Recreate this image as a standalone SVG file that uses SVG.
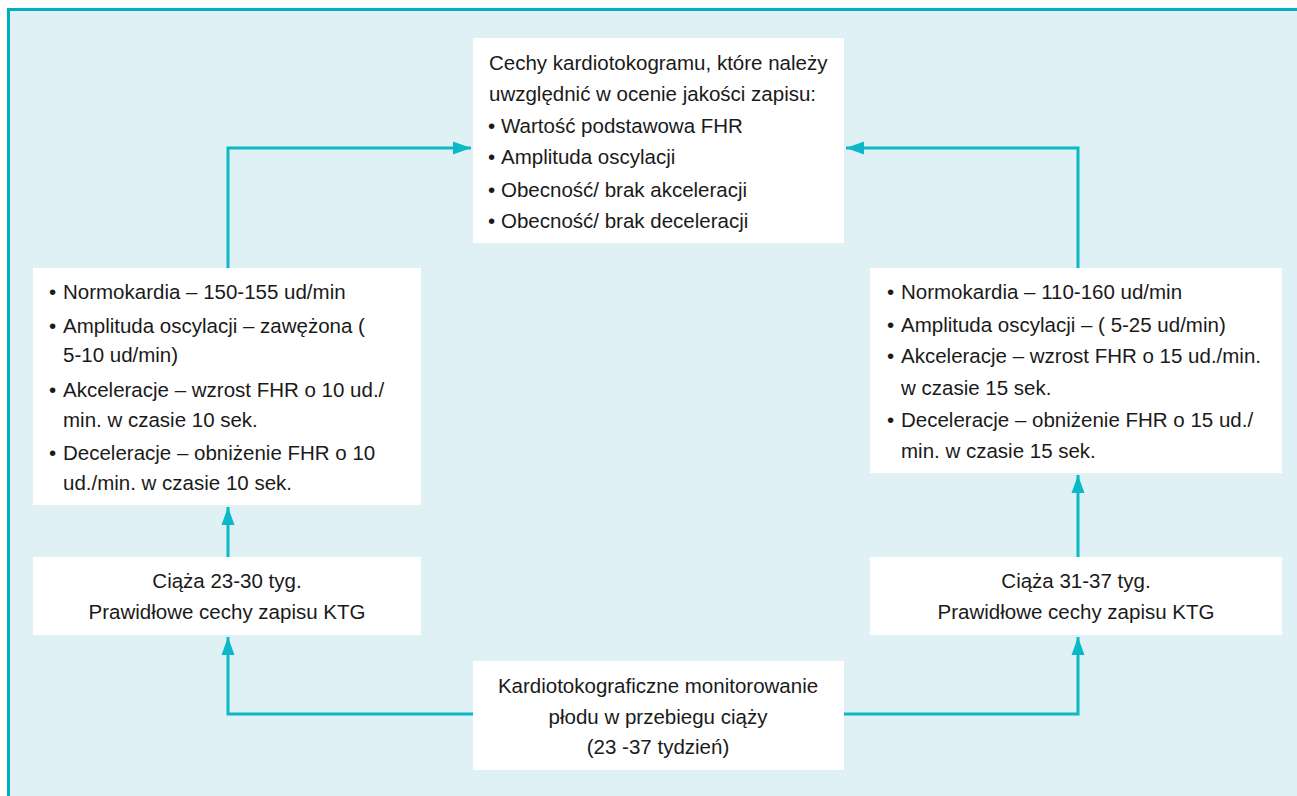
<svg xmlns="http://www.w3.org/2000/svg" width="1297" height="796" viewBox="0 0 1297 796">
  <style>
    .panel { fill: #e0f1f5; }
    .edge { fill: none; stroke: #00b0c2; stroke-width: 3; }
    .box { fill: #ffffff; }
    .wire { fill: none; stroke: #0ab8c8; stroke-width: 3; }
    text { font-family: "Liberation Sans", Arial, sans-serif; font-size: 20.5px; fill: #1a1a1a; }
    .c { text-anchor: middle; }
  </style>
  <defs>
    <marker id="arrow" markerUnits="userSpaceOnUse" markerWidth="18" markerHeight="14" refX="18" refY="7" orient="auto">
      <path d="M0,0.5 L18,7 L0,13.5 z" fill="#0ab8c8"/>
    </marker>
  </defs>

  <!-- panel background, open to the right and bottom -->
  <rect class="panel" x="8" y="9" width="1289" height="787"/>
  <path class="edge" d="M8.5,796 V9.5 H1297"/>

  <!-- connectors -->
  <g id="connectors">
    <path class="wire" d="M473,714 H228 V637" marker-end="url(#arrow)"/>
    <path class="wire" d="M228,557 V507" marker-end="url(#arrow)"/>
    <path class="wire" d="M228,268 V148 H471" marker-end="url(#arrow)"/>
    <path class="wire" d="M844,714 H1078 V637" marker-end="url(#arrow)"/>
    <path class="wire" d="M1078,557 V475" marker-end="url(#arrow)"/>
    <path class="wire" d="M1078,268 V148 H846" marker-end="url(#arrow)"/>
  </g>

  <!-- evaluation criteria -->
  <g id="criteria">
    <rect class="box" x="473" y="38" width="371" height="205"/>
    <text x="489" y="70">Cechy kardiotokogramu, które należy</text>
    <text x="489" y="101">uwzględnić w ocenie jakości zapisu:</text>
    <text x="488" y="133">•</text><text x="501" y="133">Wartość podstawowa FHR</text>
    <text x="488" y="164">•</text><text x="501" y="164">Amplituda oscylacji</text>
    <text x="488" y="197">•</text><text x="501" y="197">Obecność/ brak akceleracji</text>
    <text x="488" y="228">•</text><text x="501" y="228">Obecność/ brak deceleracji</text>
  </g>

  <!-- features 23-30 weeks -->
  <g id="features-early">
    <rect class="box" x="33" y="268" width="388" height="237"/>
    <text x="49" y="299">•</text><text x="63" y="299">Normokardia – 150-155 ud/min</text>
    <text x="49" y="333">•</text><text x="63" y="333">Amplituda oscylacji – zawężona (</text>
    <text x="63" y="362">5-10 ud/min)</text>
    <text x="49" y="397">•</text><text x="63" y="397">Akceleracje – wzrost FHR o 10 ud./</text>
    <text x="63" y="427">min. w czasie 10 sek.</text>
    <text x="49" y="460">•</text><text x="63" y="460">Deceleracje – obniżenie FHR o 10</text>
    <text x="63" y="490">ud./min. w czasie 10 sek.</text>
  </g>

  <!-- features 31-37 weeks -->
  <g id="features-late">
    <rect class="box" x="870" y="268" width="412" height="205"/>
    <text x="887" y="299">•</text><text x="901" y="299">Normokardia – 110-160 ud/min</text>
    <text x="887" y="332">•</text><text x="901" y="332">Amplituda oscylacji – ( 5-25 ud/min)</text>
    <text x="887" y="363">•</text><text x="901" y="363">Akceleracje – wzrost FHR o 15 ud./min.</text>
    <text x="901" y="395">w czasie 15 sek.</text>
    <text x="887" y="427">•</text><text x="901" y="427">Deceleracje – obniżenie FHR o 15 ud./</text>
    <text x="901" y="458">min. w czasie 15 sek.</text>
  </g>

  <!-- pregnancy 23-30 weeks -->
  <g id="stage-early">
    <rect class="box" x="33" y="557" width="388" height="78"/>
    <text class="c" x="227" y="588">Ciąża 23-30 tyg.</text>
    <text class="c" x="227" y="619">Prawidłowe cechy zapisu KTG</text>
  </g>

  <!-- pregnancy 31-37 weeks -->
  <g id="stage-late">
    <rect class="box" x="870" y="557" width="412" height="78"/>
    <text class="c" x="1076" y="588">Ciąża 31-37 tyg.</text>
    <text class="c" x="1076" y="619">Prawidłowe cechy zapisu KTG</text>
  </g>

  <!-- monitoring -->
  <g id="monitoring">
    <rect class="box" x="473" y="661" width="371" height="109"/>
    <text class="c" x="658" y="693">Kardiotokograficzne monitorowanie</text>
    <text class="c" x="658" y="724">płodu w przebiegu ciąży</text>
    <text class="c" x="658" y="754">(23 -37 tydzień)</text>
  </g>
</svg>
